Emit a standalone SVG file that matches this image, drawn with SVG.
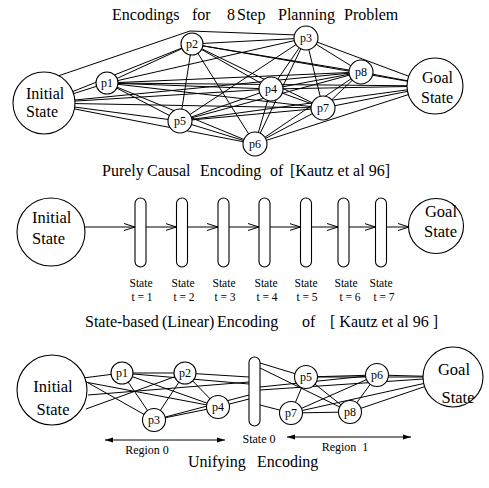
<svg xmlns="http://www.w3.org/2000/svg" width="489" height="488" viewBox="0 0 489 488" font-family="'Liberation Serif', 'DejaVu Serif', serif">
<defs>
<style>
.e{stroke:#000;stroke-width:1;fill:none}
.n{fill:#fff;stroke:#000;stroke-width:1.1}
text{font-family:'Liberation Serif','DejaVu Serif',serif;fill:#000}
.ttl{font-size:16px}
.big{font-size:16.5px}
.pl{font-size:12px;text-anchor:middle}
.sm{font-size:11.5px;text-anchor:middle}
.md{text-anchor:middle}
</style>
<marker id="open" markerWidth="12" markerHeight="9" refX="11" refY="4" orient="auto" markerUnits="userSpaceOnUse">
<path d="M0,0.5 L11,4 L0,7.5" fill="none" stroke="#000" stroke-width="1"/>
</marker>
<marker id="fa" markerWidth="9" markerHeight="6" refX="8" refY="3" orient="auto-start-reverse" markerUnits="userSpaceOnUse">
<path d="M0,0.5 L8,3 L0,5.5 z" fill="#000"/>
</marker>
</defs>
<rect width="489" height="488" fill="#fff"/>

<!-- Titles -->
<text class="ttl" y="20"><tspan x="112">Encodings</tspan><tspan x="192">for</tspan><tspan x="227">8</tspan><tspan x="237">Step</tspan><tspan x="278">Planning</tspan><tspan x="344">Problem</tspan></text>
<text class="ttl" y="176"><tspan x="102">Purely</tspan><tspan x="147">Causal</tspan><tspan x="200">Encoding</tspan><tspan x="270">of</tspan><tspan x="290">[Kautz et al 96]</tspan></text>
<text class="ttl" y="327"><tspan x="85">State-based</tspan><tspan x="162">(Linear)</tspan><tspan x="217">Encoding</tspan><tspan x="302">of</tspan><tspan x="330">[ Kautz et al 96 ]</tspan></text>
<text class="ttl" y="467"><tspan x="188">Unifying</tspan><tspan x="257">Encoding</tspan></text>

<!-- Connectors -->
<g id="connectors">
<g id="top-edges" class="e">
<path d="M58,76 L190,31 L298,35"/>
<path d="M44,103 L107,83"/>
<path d="M44,103 L192,44"/>
<path d="M44,103 L271,89"/>
<path d="M44,103 L180,121"/>
<path d="M44,103 L255,144"/>
<path d="M44,103 L323,108"/>
<path d="M44,103 L361,72"/>
<path d="M107,83 L192,44"/>
<path d="M107,83 L306,38"/>
<path d="M107,83 L271,89"/>
<path d="M107,83 L180,121"/>
<path d="M107,83 L255,144"/>
<path d="M107,83 L323,108"/>
<path d="M107,83 L361,72"/>
<path d="M107,83 L435,86"/>
<path d="M192,44 L306,38"/>
<path d="M192,44 L271,89"/>
<path d="M192,44 L180,121"/>
<path d="M192,44 L255,144"/>
<path d="M192,44 L323,108"/>
<path d="M192,44 L361,72"/>
<path d="M192,44 L435,86"/>
<path d="M306,38 L271,89"/>
<path d="M306,38 L180,121"/>
<path d="M306,38 L255,144"/>
<path d="M306,38 L323,108"/>
<path d="M306,38 L361,72"/>
<path d="M306,38 L435,86"/>
<path d="M271,89 L180,121"/>
<path d="M271,89 L255,144"/>
<path d="M271,89 L323,108"/>
<path d="M271,89 L361,72"/>
<path d="M271,89 L435,86"/>
<path d="M180,121 L255,144"/>
<path d="M180,121 L323,108"/>
<path d="M180,121 L361,72"/>
<path d="M180,121 L435,86"/>
<path d="M255,144 L323,108"/>
<path d="M255,144 L361,72"/>
<path d="M255,144 L435,86"/>
<path d="M323,108 L361,72"/>
<path d="M323,108 L435,86"/>
<path d="M361,72 L435,86"/>
</g>
<g id="middle-arrows" class="e" marker-end="url(#open)">
<path d="M85,227 L135,227"/>
<path d="M146,227 L176.5,227"/>
<path d="M187.5,227 L218,227"/>
<path d="M229,227 L259,227"/>
<path d="M270,227 L300.5,227"/>
<path d="M311.5,227 L338,227"/>
<path d="M349,227 L375.5,227"/>
<path d="M386.5,227 L409,227"/>
</g>
<g id="bottom-edges" class="e">
<path d="M83,378 L122,373"/>
<path d="M83,380 L154,420"/>
<path d="M85,382 L218,407"/>
<path d="M88,395 L249,382"/>
<path d="M86,409 L185,373"/>
<path d="M122,373 L185,373"/>
<path d="M122,373 L154,420"/>
<path d="M122,373 L218,407"/>
<path d="M122,373 L249,384"/>
<path d="M185,373 L154,420"/>
<path d="M185,373 L218,407"/>
<path d="M185,373 L249,377"/>
<path d="M154,420 L218,407"/>
<path d="M154,420 L249,395"/>
<path d="M218,407 L249,399"/>
<path d="M260,363 L306,377"/>
<path d="M260,368 L350,412"/>
<path d="M260,387 L377,375"/>
<path d="M260,390 L453,377"/>
<path d="M260,405 L291,413"/>
<path d="M306,377 L377,375"/>
<path d="M306,377 L291,413"/>
<path d="M306,377 L350,412"/>
<path d="M306,377 L453,377"/>
<path d="M377,375 L291,413"/>
<path d="M377,375 L350,412"/>
<path d="M377,375 L453,377"/>
<path d="M291,413 L350,412"/>
<path d="M291,413 L453,377"/>
<path d="M350,412 L453,377"/>
</g>
<g id="region-arrows" class="e" marker-start="url(#fa)" marker-end="url(#fa)">
<path d="M105,440 L225,440"/>
<path d="M287,437 L411,437"/>
</g>
</g>

<!-- Top graph nodes -->
<g id="top-initial"><circle class="n" cx="44" cy="103" r="31"/><text class="ttl" x="26" y="99">Initial</text><text class="ttl" x="26" y="117">State</text></g>
<g id="top-goal"><circle class="n" cx="435" cy="86" r="28"/><text class="ttl" x="453" y="83" text-anchor="end">Goal</text><text class="ttl" x="453" y="103" text-anchor="end">State</text></g>
<g id="top-p1"><circle class="n" cx="107" cy="83" r="11"/><text class="pl" x="107" y="87">p1</text></g>
<g id="top-p2"><circle class="n" cx="192" cy="44" r="11"/><text class="pl" x="192" y="48">p2</text></g>
<g id="top-p3"><circle class="n" cx="306" cy="38" r="12"/><text class="pl" x="306" y="42">p3</text></g>
<g id="top-p4"><circle class="n" cx="271" cy="89" r="12"/><text class="pl" x="271" y="93">p4</text></g>
<g id="top-p5"><circle class="n" cx="180" cy="121" r="12"/><text class="pl" x="180" y="125">p5</text></g>
<g id="top-p6"><circle class="n" cx="255" cy="144" r="12"/><text class="pl" x="255" y="148">p6</text></g>
<g id="top-p7"><circle class="n" cx="323" cy="108" r="12"/><text class="pl" x="323" y="112">p7</text></g>
<g id="top-p8"><circle class="n" cx="361" cy="72" r="12"/><text class="pl" x="361" y="76">p8</text></g>

<!-- Middle nodes -->
<g id="mid-initial"><circle class="n" cx="51" cy="232" r="34"/><text class="big" x="32" y="223">Initial</text><text class="big" x="32" y="244">State</text></g>
<g id="mid-goal"><circle class="n" cx="436" cy="226" r="27.5"/><text class="big" x="457" y="217" text-anchor="end">Goal</text><text class="big" x="457" y="237" text-anchor="end">State</text></g>
<g id="mid-s1"><rect class="n" x="135" y="198" width="11" height="69" rx="5.5"/><text class="sm" x="141" y="287">State</text><text class="sm" x="142" y="301">t = 1</text></g>
<g id="mid-s2"><rect class="n" x="176.5" y="198" width="11" height="69" rx="5.5"/><text class="sm" x="183" y="287">State</text><text class="sm" x="184" y="301">t = 2</text></g>
<g id="mid-s3"><rect class="n" x="218" y="198" width="11" height="69" rx="5.5"/><text class="sm" x="224" y="287">State</text><text class="sm" x="225" y="301">t = 3</text></g>
<g id="mid-s4"><rect class="n" x="259" y="198" width="11" height="69" rx="5.5"/><text class="sm" x="266" y="287">State</text><text class="sm" x="267" y="301">t = 4</text></g>
<g id="mid-s5"><rect class="n" x="300.5" y="198" width="11" height="69" rx="5.5"/><text class="sm" x="306" y="287">State</text><text class="sm" x="307" y="301">t = 5</text></g>
<g id="mid-s6"><rect class="n" x="338" y="198" width="11" height="69" rx="5.5"/><text class="sm" x="346" y="287">State</text><text class="sm" x="350" y="301">t = 6</text></g>
<g id="mid-s7"><rect class="n" x="375.5" y="198" width="11" height="69" rx="5.5"/><text class="sm" x="381" y="287">State</text><text class="sm" x="384" y="301">t = 7</text></g>

<!-- Bottom nodes -->
<g id="bot-initial"><circle class="n" cx="52" cy="390" r="35"/><text class="big md" x="53" y="392">Initial</text><text class="big md" x="53" y="415">State</text></g>
<g id="bot-goal"><circle class="n" cx="453" cy="377" r="30"/><text class="big md" x="454" y="375">Goal</text><text class="big md" x="458" y="403">State</text></g>
<g id="bot-p1"><circle class="n" cx="122" cy="373" r="11"/><text class="pl" x="122" y="377">p1</text></g>
<g id="bot-p2"><circle class="n" cx="185" cy="373" r="11"/><text class="pl" x="185" y="377">p2</text></g>
<g id="bot-p3"><circle class="n" cx="154" cy="420" r="11.5"/><text class="pl" x="154" y="424">p3</text></g>
<g id="bot-p4"><circle class="n" cx="218" cy="407" r="11.5"/><text class="pl" x="218" y="411">p4</text></g>
<g id="bot-state0"><rect class="n" x="249" y="357" width="11" height="69" rx="5.5"/><text class="md" font-size="12" x="259" y="443">State 0</text></g>
<g id="bot-p5"><circle class="n" cx="306" cy="377" r="11.5"/><text class="pl" x="306" y="381">p5</text></g>
<g id="bot-p6"><circle class="n" cx="377" cy="375" r="11.5"/><text class="pl" x="377" y="379">p6</text></g>
<g id="bot-p7"><circle class="n" cx="291" cy="413" r="11.5"/><text class="pl" x="291" y="417">p7</text></g>
<g id="bot-p8"><circle class="n" cx="350" cy="412" r="11.5"/><text class="pl" x="350" y="416">p8</text></g>
<text class="md" font-size="12" x="147" y="454">Region 0</text>
<text class="md" font-size="12" x="345" y="451" xml:space="preserve">Region  1</text>
</svg>
